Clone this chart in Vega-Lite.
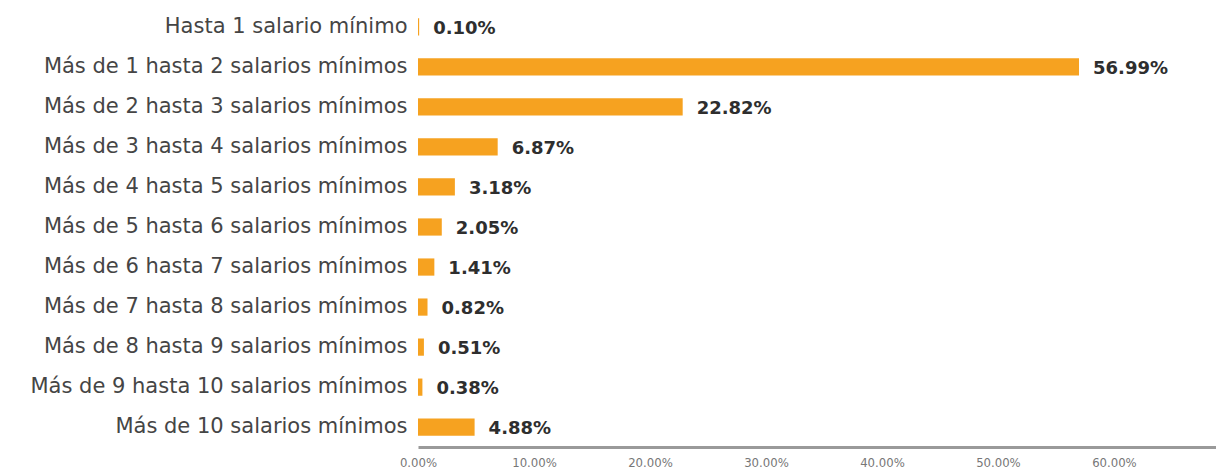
{
  "$schema": "https://vega.github.io/schema/vega-lite/v6.json",
  "autosize": "none",
  "width": 798,
  "height": 440,
  "padding": {"left": 418, "top": 7, "right": 0, "bottom": 28},
  "background": "white",
  "config": {"view": {"stroke": null}},
  "data": {"values": [
    {"cat": "Hasta 1 salario mínimo", "v": 0.10},
    {"cat": "Más de 1 hasta 2 salarios mínimos", "v": 56.99},
    {"cat": "Más de 2 hasta 3 salarios mínimos", "v": 22.82},
    {"cat": "Más de 3 hasta 4 salarios mínimos", "v": 6.87},
    {"cat": "Más de 4 hasta 5 salarios mínimos", "v": 3.18},
    {"cat": "Más de 5 hasta 6 salarios mínimos", "v": 2.05},
    {"cat": "Más de 6 hasta 7 salarios mínimos", "v": 1.41},
    {"cat": "Más de 7 hasta 8 salarios mínimos", "v": 0.82},
    {"cat": "Más de 8 hasta 9 salarios mínimos", "v": 0.51},
    {"cat": "Más de 9 hasta 10 salarios mínimos", "v": 0.38},
    {"cat": "Más de 10 salarios mínimos", "v": 4.88}
  ]},
  "transform": [{"calculate": "format(datum.v, '.2f') + '%'", "as": "label"}],
  "encoding": {
    "y": {"field": "cat", "type": "nominal", "sort": null,
      "scale": {"paddingInner": 0.57, "paddingOuter": 0.28},
      "axis": {"title": null, "domain": false, "ticks": false, "labelPadding": 11, "labelLimit": 0,
        "labelFont": "DejaVu Sans", "labelFontSize": 21, "labelColor": "#454545"}},
    "x": {"field": "v", "type": "quantitative",
      "scale": {"domain": [0, 68.8], "nice": false, "zero": true},
      "axis": {"title": null, "grid": false, "ticks": false, "values": [0, 10, 20, 30, 40, 50, 60],
        "labelExpr": "format(datum.value, '.2f') + '%'", "domainColor": "#9a9a9a", "domainWidth": 3,
        "labelFont": "DejaVu Sans Condensed", "labelFontSize": 13, "labelColor": "#777", "labelPadding": 9,
        "labelFlush": false}}
  },
  "layer": [
    {"mark": {"type": "bar", "color": "#F6A220"}},
    {"mark": {"type": "text", "align": "left", "baseline": "middle", "dx": 14, "dy": 2,
      "font": "DejaVu Sans", "fontSize": 18, "fontWeight": "bold", "color": "#2e2e2e"},
      "encoding": {"text": {"field": "label", "type": "nominal"}}}
  ]
}
